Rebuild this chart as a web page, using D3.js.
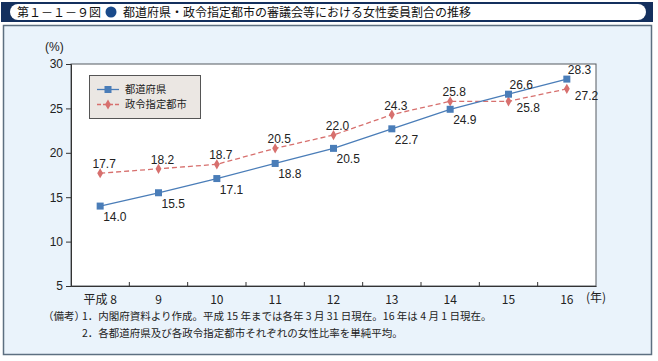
<!DOCTYPE html>
<html><head><meta charset="utf-8">
<script src="https://cdn.jsdelivr.net/npm/d3@7"></script>
<style>
body{margin:0;background:#fff;}
svg text{font-family:"Liberation Sans",Arial,sans-serif;}
.jp{font-family:"Noto Sans CJK JP",sans-serif !important;}
</style></head><body>
<script>
const categories = ["平成 8","9","10","11","12","13","14","15","16"];
const prefectures = [14.0,15.5,17.1,18.8,20.5,22.7,24.9,26.6,28.3];
const designatedCities = [17.7,18.2,18.7,20.5,22.0,24.3,25.8,25.8,27.2];
const yTicks = [5,10,15,20,25,30];
const seriesNames = ["都道府県","政令指定都市"];
const title = "第１－１－９図";
const titleText = "都道府県・政令指定都市の審議会等における女性委員割合の推移";
const notes = ["1．内閣府資料より作成。平成 15 年までは各年 3 月 31 日現在。16 年は 4 月 1 日現在。",
               "2．各都道府県及び各政令指定都市それぞれの女性比率を単純平均。"];

const W=658,H=361;
const svg=d3.select("body").append("svg").attr("width",W).attr("height",H);

// title bar
svg.append("rect").attr("x",1).attr("y",2).attr("width",652).attr("height",20).attr("fill","#14305e");
svg.append("rect").attr("x",10).attr("y",4).attr("width",636).attr("height",16).attr("rx",8).attr("fill","#fff");
svg.append("text").attr("class","jp").attr("x",17).attr("y",16.5).attr("font-size",12).attr("fill","#111").text(title);
svg.append("circle").attr("cx",111).attr("cy",12).attr("r",5.5).attr("fill","#1a4a8a");
svg.append("text").attr("class","jp").attr("x",123).attr("y",16.5).attr("font-size",12).attr("fill","#111").text(titleText);

// panel
svg.append("rect").attr("x",3.5).attr("y",25.5).attr("width",648).attr("height",329).attr("fill","#eaf3fb").attr("stroke","#5d6f80").attr("stroke-width",1.5);

const m={l:71,t:64,r:596,b:286};
const x=d3.scaleBand().domain(categories).range([m.l,m.r]);
const y=d3.scaleLinear().domain([5,30]).range([m.b,m.t]);
const cx=c=>x(c)+x.bandwidth()/2;

svg.append("rect").attr("x",m.l).attr("y",m.t).attr("width",m.r-m.l).attr("height",m.b-m.t).attr("fill","#fff").attr("stroke","#555a60").attr("stroke-width",1);

// y axis
const ya=svg.append("g").attr("transform",`translate(${m.l},0)`).call(d3.axisLeft(y).tickValues(yTicks).tickSize(5).tickPadding(3));
ya.select(".domain").attr("stroke","#333");
ya.selectAll(".tick line").attr("stroke","#333");
ya.selectAll("text").attr("font-size",12).attr("fill","#222");
svg.append("text").attr("x",45).attr("y",51).attr("font-size",12).attr("fill","#222").text("(%)");

// x axis
const xa=svg.append("g").attr("transform",`translate(0,${m.b})`).call(d3.axisBottom(x).tickSize(0).tickPadding(9));
xa.select(".domain").attr("stroke","#333");
xa.selectAll("text").attr("font-size",12).attr("fill","#222").attr("class","jp");
// inward ticks between categories
svg.append("g").selectAll("line").data(categories.slice(1)).join("line")
  .attr("x1",d=>x(d)).attr("x2",d=>x(d)).attr("y1",m.b).attr("y2",m.b-4).attr("stroke","#333");
svg.append("text").attr("class","jp").attr("x",586).attr("y",302).attr("font-size",12).attr("fill","#222").text("(年)");

const blue="#4a7db8", red="#d7706e";
const line=d3.line().x((d,i)=>cx(categories[i])).y(d=>y(d));
svg.append("path").datum(designatedCities).attr("d",line).attr("fill","none").attr("stroke",red).attr("stroke-width",1.3).attr("stroke-dasharray","5,3");
svg.append("path").datum(prefectures).attr("d",line).attr("fill","none").attr("stroke",blue).attr("stroke-width",1.3);

const diamond=d3.symbol().type(d3.symbolDiamond).size(30);
svg.append("g").selectAll("path").data(designatedCities).join("path").attr("d",diamond)
  .attr("transform",(d,i)=>`translate(${cx(categories[i])},${y(d)})`).attr("fill",red);
svg.append("g").selectAll("rect").data(prefectures).join("rect")
  .attr("x",(d,i)=>cx(categories[i])-3.5).attr("y",d=>y(d)-3.5).attr("width",7).attr("height",7).attr("fill",blue);

// labels: the higher series is labelled above, lower below-right
svg.append("g").selectAll("text").data(designatedCities).join("text")
  .attr("font-size",12).attr("fill","#222")
  .each(function(d,i){
    const px=cx(categories[i]),py=y(d),above=d>=prefectures[i];
    d3.select(this).attr("x",above?px+4:px+8).attr("y",above?py-5:py+11).attr("text-anchor",above?"middle":"start");
  }).text(d=>d.toFixed(1));
svg.append("g").selectAll("text").data(prefectures).join("text")
  .attr("font-size",12).attr("fill","#222")
  .each(function(d,i){
    const px=cx(categories[i]),py=y(d),above=d>designatedCities[i];
    d3.select(this).attr("x",above?px+1:px+3).attr("y",above?py-5:py+15).attr("text-anchor","start");
  }).text(d=>d.toFixed(1));

// legend
const lg=svg.append("g");
lg.append("rect").attr("x",89.5).attr("y",75.5).attr("width",111).attr("height",43).attr("fill","#ebe7e3").attr("stroke","#555").attr("stroke-width",1);
[[blue,null],[red,"4,2"]].forEach((s,i)=>{
  const yy=89.5+i*15;
  lg.append("line").attr("x1",97).attr("x2",119).attr("y1",yy).attr("y2",yy).attr("stroke",s[0]).attr("stroke-width",1.3).attr("stroke-dasharray",s[1]);
  if(i===0) lg.append("rect").attr("x",104.5).attr("y",yy-3.5).attr("width",7).attr("height",7).attr("fill",blue);
  else lg.append("path").attr("d",diamond).attr("transform",`translate(108,${yy})`).attr("fill",red);
  lg.append("text").attr("class","jp").attr("x",125).attr("y",yy+3.8).attr("font-size",10.3).attr("fill","#222").text(seriesNames[i]);
});

// notes
svg.append("text").attr("class","jp").attr("x",43).attr("y",320).attr("font-size",10.5).attr("fill","#222").text("（備考）");
notes.forEach((n,i)=>svg.append("text").attr("class","jp").attr("x",82).attr("y",320+i*17).attr("font-size",10.5).attr("fill","#222").text(n));
</script></body></html>
